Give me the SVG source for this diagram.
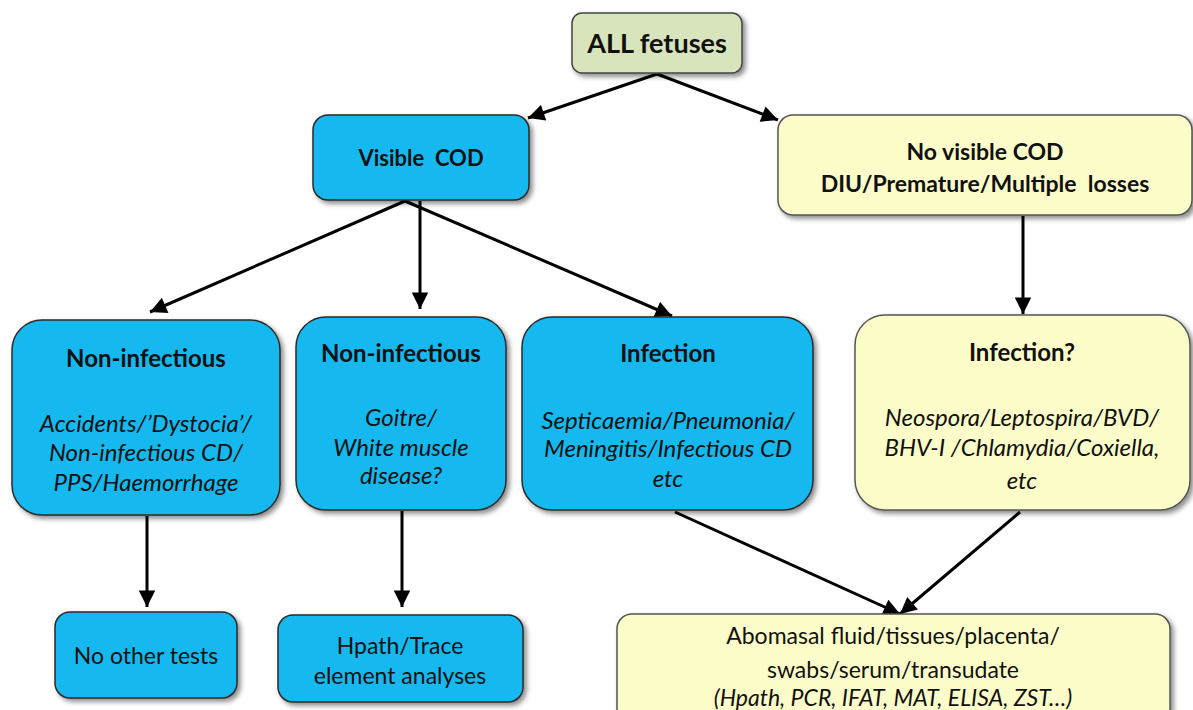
<svg xmlns="http://www.w3.org/2000/svg" width="1193" height="710" viewBox="0 0 1193 710">
<style>
text{font-family:Lato,"Open Sans","Liberation Sans",sans-serif;fill:#111;text-anchor:middle;white-space:pre}
.b{font-weight:bold}
.i{font-style:italic}
.blue{fill:#19b9ef;stroke:#2a2a2a;stroke-width:1.5}
.yel{fill:#fdfdc9;stroke:#555;stroke-width:1.5}
.grn{fill:#d8e4bc;stroke:#444;stroke-width:1.5}
.conn line{stroke:#000;stroke-width:3;marker-end:url(#ah)}
</style>
<defs>
<filter id="sh" x="-10%" y="-10%" width="130%" height="130%">
<feDropShadow dx="3" dy="3" stdDeviation="2.5" flood-color="#000" flood-opacity="0.45"/>
</filter>
<marker id="ah" viewBox="0 0 10 10" refX="10" refY="5" markerWidth="6.5" markerHeight="5.5" markerUnits="strokeWidth" orient="auto">
<path d="M0,0 L10,5 L0,10 z" fill="#000"/>
</marker>
</defs>
<g class="conn">
<line x1="657" y1="74" x2="528" y2="118"/>
<line x1="657" y1="74" x2="778" y2="120"/>
<line x1="405" y1="201" x2="150" y2="312"/>
<line x1="420" y1="201" x2="420" y2="309"/>
<line x1="405" y1="201" x2="672" y2="316"/>
<line x1="1023" y1="216" x2="1023" y2="314"/>
<line x1="147" y1="516" x2="147" y2="607"/>
<line x1="402" y1="511" x2="402" y2="607"/>
<line x1="675" y1="512" x2="900" y2="614"/>
<line x1="1020" y1="512" x2="900" y2="614"/>
</g>
<g id="all">
<rect class="grn" x="572" y="13" width="170" height="60" rx="10" filter="url(#sh)"/>
<text class="b" x="657" y="53" font-size="27">ALL fetuses</text>
</g>
<g id="visible">
<rect class="blue" x="313" y="115" width="216" height="85" rx="15" filter="url(#sh)"/>
<text class="b" x="421" y="166" font-size="22" xml:space="preserve">Visible  COD</text>
</g>
<g id="novisible">
<rect class="yel" x="778" y="115" width="414" height="100" rx="15" filter="url(#sh)"/>
<text class="b" x="985" y="160" font-size="23">No visible COD</text>
<text class="b" x="985" y="192" font-size="23" xml:space="preserve">DIU/Premature/Multiple  losses</text>
</g>
<g id="noninf1">
<rect class="blue" x="12" y="320" width="268" height="195" rx="30" filter="url(#sh)"/>
<text class="b" x="146" y="367" font-size="24">Non-infectious</text>
<text class="i" x="146" y="432" font-size="24">Accidents/’Dystocia’/</text>
<text class="i" x="146" y="461" font-size="24">Non-infectious CD/</text>
<text class="i" x="146" y="491" font-size="24">PPS/Haemorrhage</text>
</g>
<g id="noninf2">
<rect class="blue" x="296" y="317" width="210" height="193" rx="30" filter="url(#sh)"/>
<text class="b" x="401" y="362" font-size="24">Non-infectious</text>
<text class="i" x="401" y="426" font-size="24">Goitre/</text>
<text class="i" x="401" y="456" font-size="24">White muscle</text>
<text class="i" x="401" y="484" font-size="24">disease?</text>
</g>
<g id="infection">
<rect class="blue" x="522" y="317" width="291" height="193" rx="30" filter="url(#sh)"/>
<text class="b" x="668" y="362" font-size="24">Infection</text>
<text class="i" x="668" y="429" font-size="24">Septicaemia/Pneumonia/</text>
<text class="i" x="668" y="457" font-size="24">Meningitis/Infectious CD</text>
<text class="i" x="668" y="487" font-size="24">etc</text>
</g>
<g id="infectionq">
<rect class="yel" x="855" y="315" width="335" height="195" rx="30" filter="url(#sh)"/>
<text class="b" x="1022" y="361" font-size="24">Infection?</text>
<text class="i" x="1022" y="426" font-size="24">Neospora/Leptospira/BVD/</text>
<text class="i" x="1022" y="456" font-size="24">BHV-I /Chlamydia/Coxiella,</text>
<text class="i" x="1022" y="489" font-size="24">etc</text>
</g>
<g id="notests">
<rect class="blue" x="55" y="612" width="182" height="86" rx="15" filter="url(#sh)"/>
<text x="146" y="664" font-size="23">No other tests</text>
</g>
<g id="hpath">
<rect class="blue" x="278" y="615" width="245" height="87" rx="15" filter="url(#sh)"/>
<text x="400" y="654" font-size="23">Hpath/Trace</text>
<text x="400" y="684" font-size="23">element analyses</text>
</g>
<g id="abomasal">
<rect class="yel" x="617" y="614" width="553" height="110" rx="15" filter="url(#sh)"/>
<text x="893" y="644" font-size="23">Abomasal fluid/tissues/placenta/</text>
<text x="893" y="678" font-size="23">swabs/serum/transudate</text>
<text class="i" x="893" y="706" font-size="23">(Hpath, PCR, IFAT, MAT, ELISA, ZST…)</text>
</g>
</svg>
